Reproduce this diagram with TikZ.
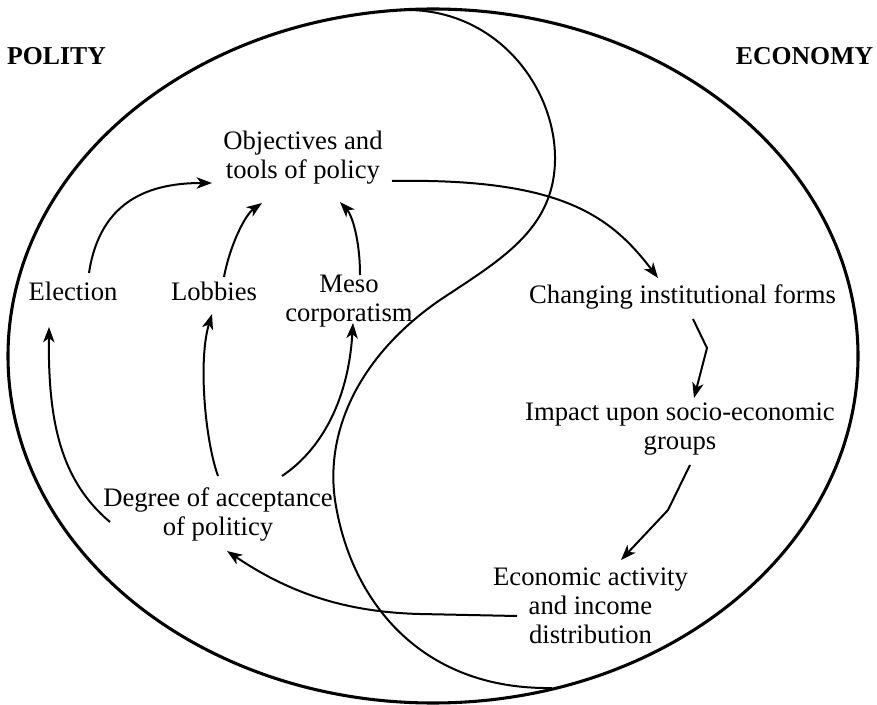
\documentclass[tikz,border=0pt]{standalone}
\usepackage{fontspec}
\setmainfont{Liberation Serif}
\usetikzlibrary{arrows.meta,calc}
\begin{document}
\begin{tikzpicture}[x=0.75pt,y=-0.75pt,
  lbl/.style={inner sep=0pt,outer sep=0pt,align=center,font=\fontsize{20}{21.75}\selectfont},
  ttl/.style={inner sep=0pt,outer sep=0pt,anchor=base,font=\fontsize{19.3}{21}\selectfont\bfseries},
  arr/.style={-{Stealth[length=11.5pt,width=8.5pt,inset=3.2pt]},line width=1.5pt},
  border/.style={line width=2.3pt},
  divider/.style={line width=1.5pt}]
\useasboundingbox (0,0) rectangle (877,705);
% outer ellipse and dividing curve
\draw[border] (433,356) ellipse [x radius=318.75pt, y radius=260.25pt];
\draw[divider] (410,10) .. controls (500,12) and (556,90) .. (555,160)
  .. controls (554,230) and (500,260) .. (440,300)
  .. controls (360,355) and (325,430) .. (335,500)
  .. controls (350,600) and (420,690) .. (552,688);
% titles
\node[ttl] (polity) at (56.5,65) {POLITY};
\node[ttl] (economy) at (804.5,65) {ECONOMY};
% nodes
\node[lbl] (obj) at (303,157.8) {Objectives and\\tools of policy};
\node[lbl] (elec) at (73,290.9) {Election};
\node[lbl] (lob) at (214,290.9) {Lobbies};
\node[lbl] (meso) at (349,301) {Meso\\corporatism};
\node[lbl] (deg) at (218,514.3) {Degree of acceptance\\of politicy};
\node[lbl] (chg) at (682.5,296.8) {Changing institutional forms};
\node[lbl] (imp) at (680,428.8) {Impact upon socio-economic\\groups};
\node[lbl] (eco) at (590.5,606) {Economic activity\\and income\\distribution};
\coordinate (k1) at (707,348);
\coordinate (k2) at (668,510);
% connectors
\draw[arr] ($(elec.center)+(16,-17.9)$) .. controls (100,200) and (150,183) .. ($(obj.center)+(-91,25.2)$);
\draw[arr] ($(lob.center)+(10,-13.9)$) .. controls (230,245) and (245,215) .. ($(obj.center)+(-41,45.2)$);
\draw[arr] ($(meso.center)+(11,-26)$) .. controls (360,240) and (352,215) .. ($(obj.center)+(37,44.2)$);
\draw[arr] ($(deg.center)+(-108,7.7)$) .. controls (60,480) and (48,420) .. ($(elec.center)+(-24,36.1)$);
\draw[arr] ($(deg.center)+(0,-38.3)$) .. controls (205,440) and (198,360) .. ($(lob.center)+(-2,23.1)$);
\draw[arr] ($(deg.center)+(64,-38.3)$) .. controls (318,452) and (348,405) .. ($(meso.center)+(4,22)$);
\draw[arr] ($(obj.center)+(89,23.2)$) .. controls (560,178) and (610,215) .. ($(chg.center)+(-24.5,-18.8)$);
\draw[arr] ($(chg.center)+(10.5,22.2)$) -- (k1) -- ($(imp.center)+(14,-30.8)$);
\draw[arr] ($(imp.center)+(10,36.2)$) -- (k2) -- ($(eco.center)+(30.5,-46)$);
\draw[arr] ($(eco.center)+(-73.5,10)$) -- (420,614) .. controls (340,612) and (285,590) .. ($(deg.center)+(9,36.7)$);
\end{tikzpicture}
\end{document}
